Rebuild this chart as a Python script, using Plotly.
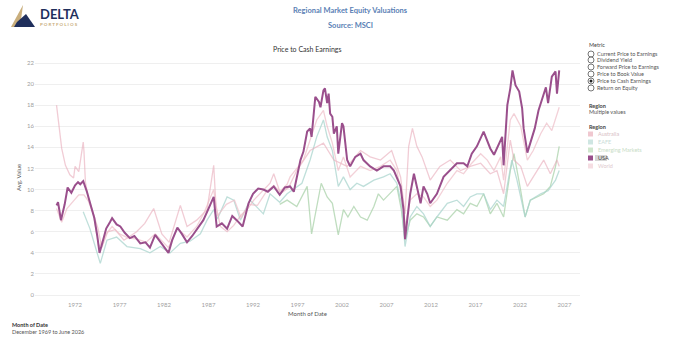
import plotly.graph_objects as go
import pandas as pd

# ---------------- data (decimal years, values) ----------------
usa_t = [1969.92, 1970.1, 1970.4, 1970.8, 1971.2, 1971.6, 1972.0, 1972.3, 1972.6, 1972.9, 1973.3, 1973.7,
         1974.2, 1974.5, 1974.75, 1975.1, 1975.5, 1975.9, 1976.2, 1976.7, 1977.1, 1977.6, 1978.2, 1978.7,
         1979.3, 1979.9, 1980.4, 1981.0, 1981.4, 1981.8, 1982.5, 1982.9, 1983.5, 1984.0, 1984.6, 1985.2,
         1985.7, 1986.4, 1987.0, 1987.6, 1987.9, 1988.5, 1989.1, 1989.7, 1990.2, 1990.8, 1991.5, 1992.0,
         1992.6, 1993.2, 1993.7, 1994.3, 1995.0, 1995.6, 1996.2, 1996.55, 1997.3, 1997.7, 1998.05, 1998.4,
         1998.6, 1999.0, 1999.4, 1999.55, 1999.9, 2000.1, 2000.3, 2000.5, 2000.7, 2000.9, 2001.05, 2001.4,
         2001.6, 2002.0, 2002.2, 2002.55, 2002.9, 2003.5, 2004.05, 2004.4, 2005.2, 2005.9, 2006.7, 2007.4,
         2007.8, 2008.2, 2008.55, 2008.9, 2009.1, 2009.3, 2009.7, 2010.05, 2010.4, 2010.8, 2011.2, 2011.55,
         2011.9, 2012.7, 2013.4, 2014.2, 2014.9, 2015.7, 2016.1, 2016.6, 2017.2, 2017.9, 2018.3, 2018.7,
         2019.06, 2019.4, 2019.8, 2020.0, 2020.2, 2020.6, 2020.9, 2021.2, 2021.5, 2021.9, 2022.25, 2022.4,
         2022.8, 2023.2, 2023.7, 2024.1, 2024.5, 2024.9, 2025.2, 2025.6, 2026.0, 2026.2, 2026.45]
usa_v = [8.5, 8.8, 7.1, 8.6, 10.2, 9.7, 10.4, 10.7, 10.5, 10.8, 9.8, 8.7,
         7.3, 5.6, 4.0, 5.0, 6.3, 6.9, 7.3, 6.7, 6.5, 5.9, 5.4, 5.6,
         4.9, 5.0, 4.5, 5.7, 5.2, 4.7, 4.0, 5.2, 6.4, 5.8, 5.0, 5.6,
         6.2, 7.1, 8.2, 9.3, 6.5, 6.8, 6.3, 7.5, 7.1, 6.5, 8.7, 9.6,
         10.1, 10.0, 9.8, 10.3, 9.5, 10.2, 10.3, 9.8, 12.8, 13.6, 15.5, 15.8,
         15.0, 18.8, 18.3, 17.8, 19.4, 19.6, 18.2, 19.1, 17.2, 16.9, 15.3, 16.0,
         13.4, 16.3, 16.0, 12.8, 12.2, 13.1, 13.4, 12.8, 12.2, 11.8, 12.2, 12.2,
         11.8, 11.2, 10.3, 8.1, 5.3, 7.1, 9.6, 11.5, 10.3, 8.7, 10.3, 9.6,
         8.7, 9.6, 11.2, 11.8, 12.5, 12.5, 12.2, 13.4, 14.1, 15.5, 14.5, 13.9,
         13.3, 13.9, 14.6, 15.0, 12.3, 18.0, 19.6, 21.3, 19.9, 19.3, 17.7, 15.8,
         13.5, 14.4, 15.8, 17.5, 18.5, 19.7, 18.2, 20.7, 21.2, 19.1, 21.3]

aus_t = [1969.92, 1970.3, 1970.5, 1970.9, 1971.4, 1971.8, 1972.0, 1972.4, 1972.6, 1972.9, 1973.0, 1973.2,
         1973.5, 1974.1, 1974.6, 1975.0, 1975.7, 1976.5, 1977.5, 1978.9, 1979.8, 1980.8, 1981.75, 1982.6,
         1983.8, 1984.6, 1985.7, 1986.8, 1987.6, 1987.8, 1988.3, 1989.1, 1989.8, 1990.6, 1991.5, 1992.1,
         1993.0, 1993.9, 1994.3, 1995.1, 1996.0, 1996.9, 1998.4, 1999.9, 2001.05, 2002.55, 2004.05, 2005.2,
         2006.3, 2007.6, 2008.55, 2009.1, 2009.5, 2009.9, 2010.4, 2011.0, 2011.9, 2013.0, 2014.2, 2015.3,
         2016.4, 2017.55, 2018.7, 2019.4, 2020.2, 2020.9, 2021.3, 2022.05, 2022.8, 2023.9, 2024.7, 2025.4,
         2026.2, 2026.45]
aus_v = [18.0, 14.9, 13.9, 12.3, 11.4, 11.1, 12.2, 11.7, 12.6, 14.5, 13.6, 10.7,
         9.2, 7.6, 6.3, 4.5, 6.0, 6.2, 5.2, 6.0, 6.8, 8.2, 5.8, 5.0,
         8.5, 6.5, 7.1, 8.1, 12.3, 8.5, 6.5, 6.0, 6.6, 7.5, 8.3, 9.0,
         9.8, 10.6, 11.5, 9.6, 10.2, 11.8, 13.7, 14.4, 12.8, 12.2, 13.7, 13.1,
         12.8, 13.7, 11.2, 7.7, 14.1, 15.8, 14.1, 13.1, 10.9, 12.2, 12.8, 11.8,
         12.2, 12.5, 11.5, 11.8, 9.6, 14.7, 12.8, 12.2, 10.3, 11.8, 12.8, 11.5,
         12.8, 12.2]

eafe_t = [1972.9, 1973.7, 1974.1, 1974.8, 1975.6, 1976.7, 1977.8, 1979.3, 1980.4, 1981.6, 1982.7, 1983.8,
          1984.9, 1986.1, 1986.8, 1987.6, 1988.0, 1989.06, 1989.8, 1990.6, 1991.7, 1993.2, 1993.9, 1995.0,
          1995.8, 1996.9, 1997.5, 1998.4, 1999.2, 1999.9, 2000.3, 2000.9, 2001.6, 2002.2, 2002.9, 2003.7,
          2004.4, 2005.6, 2006.7, 2007.4, 2008.2, 2008.7, 2009.1, 2009.7, 2010.4, 2011.2, 2011.9, 2012.7,
          2013.8, 2014.9, 2015.7, 2016.4, 2017.2, 2017.9, 2018.7, 2019.4, 2020.2, 2021.1, 2021.7, 2022.6,
          2023.2, 2024.3, 2025.2, 2026.0, 2026.45]
eafe_v = [7.9, 6.3, 5.1, 3.0, 5.2, 5.5, 4.6, 4.4, 4.0, 4.6, 4.0, 4.9,
          5.1, 5.8, 7.1, 8.1, 7.2, 9.3, 9.0, 7.1, 9.0, 7.7, 9.6, 8.8,
          9.6, 10.3, 10.6, 12.8, 15.0, 16.6, 15.0, 13.7, 10.3, 11.2, 10.0, 10.6,
          10.3, 10.9, 11.2, 11.5, 10.6, 8.7, 4.6, 7.4, 8.4, 7.7, 6.5, 7.4,
          8.7, 9.0, 8.4, 9.3, 9.6, 9.6, 8.1, 9.0, 8.4, 12.8, 10.9, 7.4,
          9.0, 9.6, 9.9, 10.9, 11.8]

em_t = [1995.0, 1995.8, 1996.9, 1997.7, 1998.05, 1998.6, 1999.2, 1999.7, 2000.3, 2000.9, 2001.6, 2002.2,
        2002.7, 2003.3, 2004.05, 2004.8, 2005.6, 2006.1, 2006.7, 2007.4, 2008.2, 2008.7, 2009.1, 2009.7,
        2010.4, 2011.2, 2011.9, 2012.7, 2013.8, 2014.9, 2015.7, 2016.4, 2017.2, 2017.9, 2018.7, 2019.4,
        2020.2, 2020.9, 2021.3, 2022.05, 2022.6, 2023.2, 2023.9, 2024.7, 2025.4, 2026.0, 2026.45]
em_v = [8.6, 9.0, 8.4, 9.6, 10.3, 5.8, 8.4, 10.6, 9.3, 8.7, 5.7, 8.1,
        7.4, 8.4, 7.4, 7.1, 8.4, 9.6, 9.0, 9.6, 10.3, 8.1, 5.2, 7.1,
        7.7, 7.4, 6.5, 7.4, 7.1, 8.1, 7.7, 8.7, 8.4, 9.6, 7.7, 8.7,
        7.4, 11.8, 13.4, 9.9, 7.4, 9.0, 9.3, 9.6, 10.3, 12.2, 14.1]

world_t = [1969.92, 1970.5, 1971.1, 1971.8, 1972.4, 1973.0, 1973.5, 1974.1, 1974.7, 1975.5, 1976.2, 1977.0,
           1978.0, 1979.0, 1980.0, 1981.0, 1982.5, 1983.5, 1984.6, 1985.7, 1986.5, 1987.6, 1988.0, 1989.0,
           1989.9, 1990.7, 1991.5, 1992.5, 1993.5, 1994.3, 1995.0, 1995.8, 1996.2, 1997.7, 1998.4, 1999.2,
           1999.9, 2000.3, 2000.9, 2001.6, 2002.2, 2002.9, 2004.05, 2005.2, 2006.3, 2007.4, 2008.2, 2008.7,
           2009.1, 2009.7, 2010.4, 2011.2, 2011.9, 2012.7, 2013.8, 2014.9, 2015.7, 2016.6, 2017.55, 2018.3,
           2019.05, 2019.8, 2020.2, 2020.9, 2021.3, 2022.05, 2022.8, 2023.5, 2024.3, 2025.0, 2025.6, 2026.2,
           2026.45]
world_v = [8.2, 6.9, 8.2, 8.9, 9.5, 9.5, 8.9, 7.6, 4.5, 5.8, 6.5, 5.8,
           5.4, 5.3, 5.0, 5.8, 4.5, 6.3, 5.5, 6.5, 7.8, 10.0, 7.5, 8.6,
           9.0, 7.3, 8.6, 8.5, 9.8, 10.4, 9.8, 10.5, 11.2, 12.8, 14.7, 16.6,
           17.5, 16.0, 14.4, 11.8, 13.1, 11.2, 12.2, 11.8, 12.2, 12.8, 11.8, 9.6,
           6.5, 9.0, 9.6, 9.3, 8.4, 9.0, 10.6, 11.8, 11.5, 12.5, 13.4, 12.8,
           11.8, 13.1, 10.9, 16.6, 17.2, 16.0, 12.8, 13.7, 15.3, 16.3, 15.6, 17.2,
           17.8]

metrics = ["Current Price to Earnings", "Dividend Yield", "Forward Price to Earnings",
           "Price to Book Value", "Price to Cash Earnings", "Return on Equity"]
selected_metric = "Price to Cash Earnings"
regions = ["Australia", "EAFE", "Emerging Markets", "USA", "World"]
year_ticks = [1972, 1977, 1982, 1987, 1992, 1997, 2002, 2007, 2012, 2017, 2022, 2027]


def to_dates(ts):
    out = []
    for t in ts:
        y = int(t)
        m = int(round((t - y) * 12)) + 1
        if m > 12:
            y += 1
            m -= 12
        out.append(pd.Timestamp(y, m, 1))
    return out


# --------------- layout geometry (pixels) ---------------
W, H = 673, 354
L, R, T, B = 35, 93, 55, 54
PW, PH = W - L - R, H - T - B


def px(x):
    return (x - L) / PW


def py(y):
    return (H - B - y) / PH


fig = go.Figure()

series = [
    ("Emerging Markets", em_t, em_v, "rgba(170,210,170,0.75)", 1.3),
    ("EAFE", eafe_t, eafe_v, "rgba(170,212,205,0.75)", 1.3),
    ("Australia", aus_t, aus_v, "rgba(232,170,185,0.6)", 1.3),
    ("World", world_t, world_v, "rgba(238,190,200,0.7)", 1.3),
    ("USA", usa_t, usa_v, "#9a4f8c", 2.0),
]
for name, t, v, col, w in series:
    fig.add_trace(go.Scatter(x=to_dates(t), y=v, mode="lines", name=name,
                             line=dict(color=col, width=w), showlegend=False))

grid = "#efefef"
fig.update_xaxes(type="date", range=["1967-07-01", "2028-10-01"],
                 tickvals=[pd.Timestamp(y, 1, 1) for y in year_ticks],
                 ticktext=[str(y) for y in year_ticks],
                 showgrid=False, zeroline=False, showline=False,
                 tickfont=dict(size=6, color="#a0a0a0", family="Lato"),
                 title=dict(text="Month of Date", font=dict(size=6, color="#555", family="Lato"), standoff=4))
fig.update_yaxes(range=[-0.47, 22.76], tickvals=list(range(0, 23, 2)),
                 showgrid=True, gridcolor=grid, gridwidth=1, zeroline=False, showline=False,
                 tickfont=dict(size=6, color="#a0a0a0", family="Lato"),
                 title=dict(text="Avg. Value", font=dict(size=6, color="#555", family="Lato"), standoff=4))

ann = []
shapes = []


def text(x, y, s, size, color, bold=False, anchor="left", family="Lato"):
    ann.append(dict(x=px(x), y=py(y), xref="paper", yref="paper", text=("<b>%s</b>" % s) if bold else s,
                    showarrow=False, xanchor=anchor, yanchor="middle",
                    font=dict(size=size, color=color, family=family)))


# titles
text(350, 10, "Regional Market Equity Valuations", 7.5, "#5a7fb5", bold=True, anchor="center")
text(350, 26, "Source: MSCI", 7.5, "#5a7fb5", bold=True, anchor="center")
text(307, 49, "Price to Cash Earnings", 7, "#333", anchor="center")

# logo
shapes.append(dict(type="path", xref="paper", yref="paper",
                   path="M %f %f L %f %f L %f %f Z" % (px(23), py(5), px(11), py(27), px(20), py(27)),
                   fillcolor="#c9ae7c", line=dict(width=0)))
shapes.append(dict(type="path", xref="paper", yref="paper",
                   path="M %f %f L %f %f L %f %f L %f %f Z" % (px(17), py(22), px(26), py(14), px(35), py(27), px(14), py(27)),
                   fillcolor="#1f2f5c", line=dict(width=0)))
text(38, 14, "DELTA", 13, "#1f2f5c", bold=True)
text(38, 24, "P O R T F O L I O S", 4.5, "#c9ae7c", bold=True)

# metric selector
text(587, 45, "Metric", 5.5, "#444")
ys = [54, 60, 67, 74, 81, 88]
for m, y in zip(metrics, ys):
    shapes.append(dict(type="circle", xref="paper", yref="paper",
                       x0=px(588), x1=px(594), y0=py(y + 3), y1=py(y - 3),
                       line=dict(color="#555", width=0.8), fillcolor="white"))
    if m == selected_metric:
        shapes.append(dict(type="circle", xref="paper", yref="paper",
                           x0=px(589.5), x1=px(592.5), y0=py(y + 1.5), y1=py(y - 1.5),
                           line=dict(width=0), fillcolor="#222"))
    text(595, y, m, 5.5, "#555")

text(587, 106, "Region", 5.5, "#444", bold=True)
text(587, 112, "Multiple values", 5.5, "#555")
text(587, 127, "Region", 5.5, "#444", bold=True)
reg_cols = ["#f0c8d0", "#cfe6e2", "#cfe6cd", "#9a4f8c", "#f5dde2"]
reg_txt = ["#d8c0c5", "#c8dcd8", "#c8dcc6", "#444", "#e0c8cd"]
ry = [134, 142, 150, 158, 166]
for r, c, tc, y in zip(regions, reg_cols, reg_txt, ry):
    shapes.append(dict(type="rect", xref="paper", yref="paper",
                       x0=px(588), x1=px(593), y0=py(y + 2.5), y1=py(y - 2.5),
                       line=dict(width=0), fillcolor=c))
    if r == "USA":
        shapes.append(dict(type="rect", xref="paper", yref="paper",
                           x0=px(595), x1=px(607), y0=py(y + 3), y1=py(y - 3),
                           line=dict(width=0), fillcolor="#d6d6d6", layer="below"))
    text(596, y, r, 5.5, tc)

# bottom-left caption
text(10, 325, "Month of Date", 5.5, "#333", bold=True)
text(10, 332, "December 1969 to June 2026", 5.5, "#555")

fig.update_layout(width=W, height=H, margin=dict(l=L, r=R, t=T, b=B),
                  paper_bgcolor="white", plot_bgcolor="white",
                  annotations=ann, shapes=shapes, showlegend=False,
                  font=dict(family="Lato"))
fig.write_html("out.html")
